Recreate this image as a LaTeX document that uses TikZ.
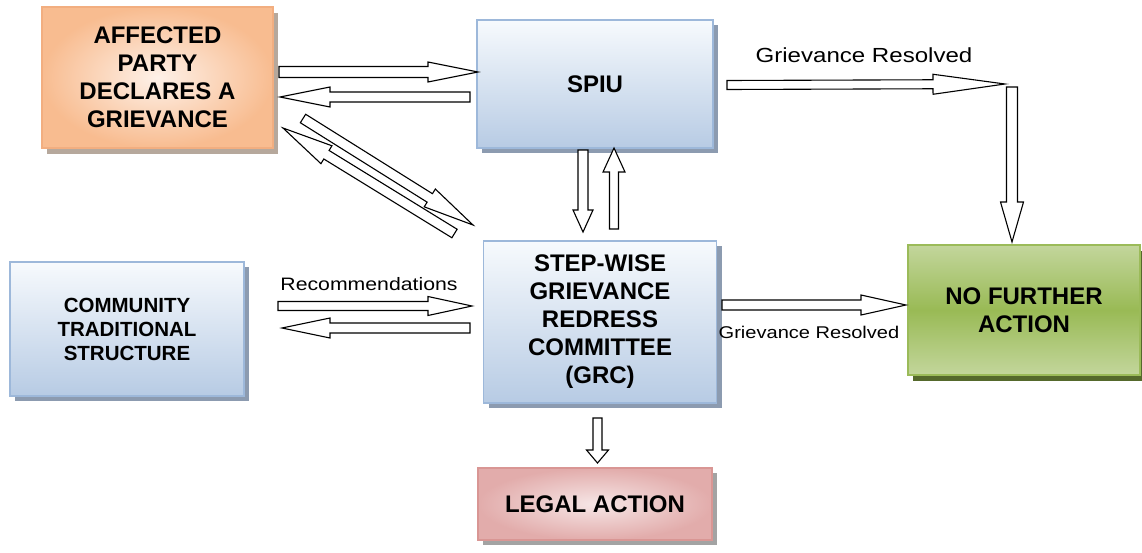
\documentclass[tikz,border=0pt]{standalone}
\usepackage{fontspec}
\setmainfont{Liberation Sans}
\newfontfamily\lblfont[FakeStretch=1.18]{Liberation Sans}
\usetikzlibrary{calc,shadows}
\definecolor{bluebrd}{HTML}{9DB8DA}
\definecolor{bluetop}{HTML}{F7FAFD}
\definecolor{bluebot}{HTML}{B7CBE4}
\definecolor{blueshd}{HTML}{8C9BB0}
\definecolor{orgbrd}{HTML}{F2AE80}
\definecolor{orgin}{HTML}{FEF1E8}
\definecolor{orgout}{HTML}{F8BC90}
\definecolor{orgshd}{HTML}{B6A89C}
\definecolor{grnbrd}{HTML}{9BBB59}
\definecolor{grnlt}{HTML}{C3D69C}
\definecolor{grnmid}{HTML}{99BA55}
\definecolor{grnshd}{HTML}{55692C}
\definecolor{redbrd}{HTML}{D99694}
\definecolor{redin}{HTML}{F6E6E6}
\definecolor{redout}{HTML}{E2ACAB}
\definecolor{redshd}{HTML}{A3A3A3}
\tikzset{
  box/.style={rectangle, line width=1.6pt, align=center, inner sep=0pt,
    font=\bfseries\fontsize{24}{28}\selectfont},
  bluebox/.style={box, draw=bluebrd, top color=bluetop, bottom color=bluebot,
    drop shadow={shadow xshift=5pt, shadow yshift=-5pt, fill=blueshd, opacity=1}},
  orangebox/.style={box, draw=orgbrd, inner color=orgin, outer color=orgout,
    drop shadow={shadow xshift=5pt, shadow yshift=-6pt, fill=orgshd, opacity=1}},
  greenbox/.style={box, draw=grnbrd, top color=grnlt, bottom color=grnlt, middle color=grnmid,
    drop shadow={shadow xshift=5pt, shadow yshift=-6pt, fill=grnshd, opacity=1}},
  redbox/.style={box, draw=redbrd, inner color=redin, outer color=redout,
    drop shadow={shadow xshift=5pt, shadow yshift=-5pt, fill=redshd, opacity=1}},
  blockarrow/.style={draw=black, line width=1.1pt, fill=white, line join=miter},
  lbl/.style={font=\lblfont\fontsize{18}{20}\selectfont, inner sep=0pt},
  lblbig/.style={font=\lblfont\fontsize{20.4}{22}\selectfont, inner sep=0pt},
  lblsmall/.style={font=\lblfont\fontsize{17}{19}\selectfont, inner sep=0pt}
}
% #1 start, #2 end, #3 half shaft width, #4 half head width, #5 head length
\newcommand{\blockarr}[5]{%
  \coordinate (bhx) at ($(#2)!#5!(#1)$);
  \draw[blockarrow] ($(#1)!#3!90:(#2)$) -- ($(bhx)!#3!90:(#2)$) -- ($(bhx)!#4!90:(#2)$)
    -- (#2) -- ($(bhx)!#4!-90:(#2)$) -- ($(bhx)!#3!-90:(#2)$) -- ($(#1)!#3!-90:(#2)$) -- cycle;}
\begin{document}
\begin{tikzpicture}[x=1pt,y=-1pt]
\useasboundingbox[fill=white] (0,0) rectangle (1142,552);
% boxes
\node[orangebox, minimum width=231pt, minimum height=141pt] (party) at (157.5,77.5)
  {AFFECTED\\PARTY\\DECLARES A\\GRIEVANCE};
\node[bluebox, minimum width=236pt, minimum height=128pt] (spiu) at (595,84) {SPIU};
\node[bluebox, minimum width=233pt, minimum height=162pt] (grc) at (600,322)
  {STEP-WISE\\GRIEVANCE\\REDRESS\\COMMITTEE\\(GRC)};
\node[bluebox, minimum width=234pt, minimum height=134pt, font=\bfseries\fontsize{20.5}{24}\selectfont] (comm) at (127,329)
  {COMMUNITY\\TRADITIONAL\\STRUCTURE};
\node[greenbox, minimum width=232pt, minimum height=130pt] (nfa) at (1024,310)
  {NO FURTHER\\ACTION};
\node[redbox, minimum width=234pt, minimum height=72pt] (legal) at (595,504)
  {LEGAL ACTION};
% arrow end points
\coordinate (ps-a) at (279,72);    \coordinate (ps-b) at (478,72);
\coordinate (sp-a) at (470,97);    \coordinate (sp-b) at (280,97);
\coordinate (pg-a) at (303,118.5); \coordinate (pg-b) at (473,225);
\coordinate (gp-a) at (454.5,233.5); \coordinate (gp-b) at (283,128);
\coordinate (sg-a) at (583,150);   \coordinate (sg-b) at (583,232);
\coordinate (gs-a) at (614,229);   \coordinate (gs-b) at (614,148);
\coordinate (sc-a) at (727,85);    \coordinate (sc-b) at (1005,84);
\coordinate (cn-a) at (1012,87);   \coordinate (cn-b) at (1012,242);
\coordinate (gn-a) at (722,305);   \coordinate (gn-b) at (906,305);
\coordinate (cg-a) at (278,306);   \coordinate (cg-b) at (472,306);
\coordinate (gc-a) at (470,328);   \coordinate (gc-b) at (282,328);
\coordinate (gl-a) at (597.5,418); \coordinate (gl-b) at (597.5,463);
% arrows
\blockarr{ps-a}{ps-b}{5.5pt}{10pt}{50pt}
\blockarr{sp-a}{sp-b}{5pt}{10pt}{50pt}
\blockarr{pg-a}{pg-b}{5pt}{10.5pt}{51pt}
\blockarr{gp-a}{gp-b}{5pt}{10.5pt}{51pt}
\blockarr{sg-a}{sg-b}{5pt}{10pt}{22pt}
\blockarr{gs-a}{gs-b}{4.5pt}{11pt}{24pt}
\blockarr{sc-a}{sc-b}{4.5pt}{10pt}{72pt}
\blockarr{cn-a}{cn-b}{5.5pt}{11.5pt}{40pt}
\blockarr{gn-a}{gn-b}{5pt}{10pt}{45pt}
\blockarr{cg-a}{cg-b}{4.5pt}{9.5pt}{44pt}
\blockarr{gc-a}{gc-b}{5pt}{10pt}{48pt}
\blockarr{gl-a}{gl-b}{4.5pt}{11pt}{13pt}
% labels
\node[lblbig] (lbl1) at (864,55) {Grievance Resolved};
\node[lblsmall] (lbl2) at (809,332) {Grievance Resolved};
\node[lbl] (lbl3) at (369,284) {Recommendations};
\end{tikzpicture}
\end{document}
